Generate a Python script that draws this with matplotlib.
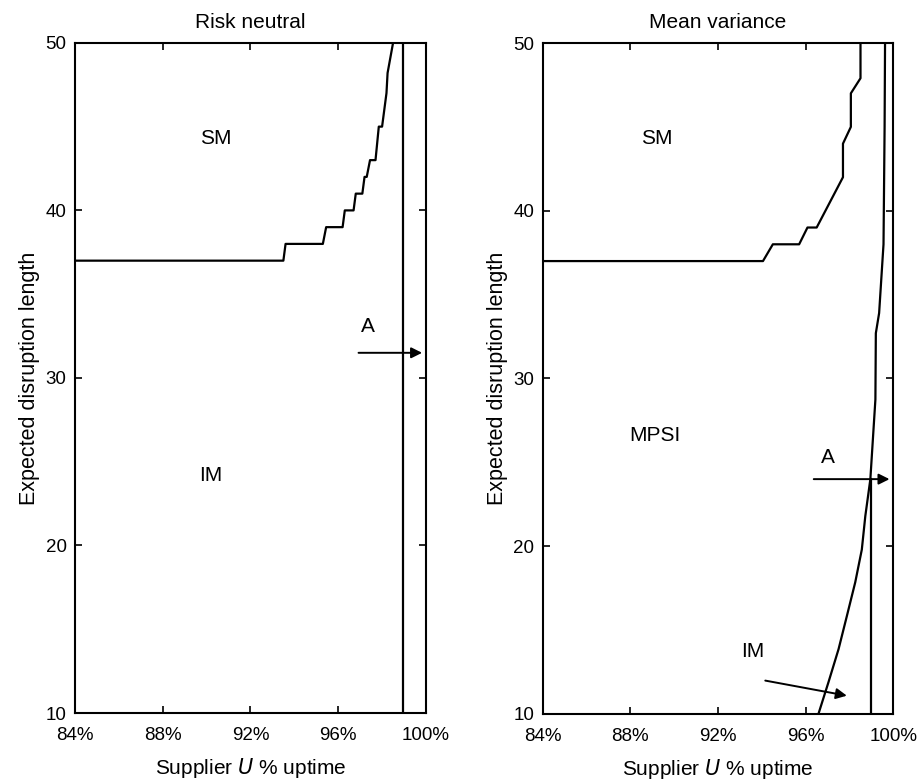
import numpy as np
import matplotlib
matplotlib.use("Agg")
import matplotlib.pyplot as plt

plt.rcParams['font.family'] = ['Liberation Sans', 'DejaVu Sans']

# risk neutral: SM / IM boundary (staircase)
rn_x = [84, 93.5, 93.6, 95.3, 95.45, 96.2, 96.3, 96.7, 96.8, 97.1, 97.2, 97.3,
        97.45, 97.7, 97.85, 98.0, 98.2, 98.25, 98.5]
rn_y = [37, 37, 38, 38, 39, 39, 40, 40, 41, 41, 42, 42,
        43, 43, 45, 45, 47, 48.2, 50]
rn_vline = 98.95

# mean variance: SM / MPSI boundary
mv_x = [84, 94.05, 94.5, 95.7, 96.08, 96.5, 97.7, 97.7, 98.06, 98.06, 98.5, 98.5]
mv_y = [37, 37, 38, 38, 39, 39, 42, 44, 45, 47, 47.9, 50]

# mean variance: MPSI / IM curve
mvc_x = [99.62, 99.6, 99.55, 99.35, 99.2, 99.18, 98.95, 98.72, 98.56,
         98.26, 97.88, 97.5, 97.04, 96.58]
mvc_y = [50, 45, 38, 33.9, 32.7, 28.75, 24.0, 21.8, 19.8,
         17.85, 15.85, 13.87, 11.9, 10.0]
mv_vline = 99.0
mv_vline_top = 24.0

xticks = [84, 88, 92, 96, 100]
yticks = [10, 20, 30, 40, 50]

fig = plt.figure(figsize=(9.21, 7.82), dpi=100)
ax1 = fig.add_axes([0.0814, 0.0882, 0.3811, 0.857])
ax2 = fig.add_axes([0.5893, 0.0870, 0.3807, 0.8580])

lw = 1.6
for ax, title in [(ax1, 'Risk neutral'), (ax2, 'Mean variance')]:
    ax.set_xlim(84, 100)
    ax.set_ylim(10, 50)
    ax.set_xticks(xticks)
    ax.set_xticklabels([f'{t}%' for t in xticks])
    ax.set_yticks(yticks)
    ax.tick_params(direction='in', top=True, right=True, length=5, width=1.2,
                   labelsize=13.5)
    ax.tick_params(axis='x', pad=10)
    ax.tick_params(axis='y', pad=6)
    for s in ax.spines.values():
        s.set_linewidth(1.5)
    ax.set_title(title, fontsize=15, pad=11)
    ax.set_xlabel('Supplier $\\mathit{U}$ % uptime', fontsize=15, labelpad=9)
    ax.set_ylabel('Expected disruption length', fontsize=15.5, labelpad=4)

# left panel
ax1.plot(rn_x, rn_y, color='black', lw=lw)
ax1.axvline(rn_vline, color='black', lw=lw)
ax1.text(90.4, 44.3, 'SM', fontsize=15, ha='center', va='center')
ax1.text(90.2, 24.2, 'IM', fontsize=15, ha='center', va='center')
ax1.text(97.35, 33.1, 'A', fontsize=15, ha='center', va='center')
ax1.annotate('', xy=(99.95, 31.5), xytext=(96.8, 31.5),
             arrowprops=dict(arrowstyle='-|>', color='black', lw=1.4,
                             mutation_scale=16))

# right panel
ax2.plot(mv_x, mv_y, color='black', lw=lw)
ax2.plot(mvc_x, mvc_y, color='black', lw=lw)
ax2.plot([mv_vline, mv_vline], [10, mv_vline_top], color='black', lw=lw)
ax2.text(89.2, 44.3, 'SM', fontsize=15, ha='center', va='center')
ax2.text(89.1, 26.6, 'MPSI', fontsize=15, ha='center', va='center')
ax2.text(97.0, 25.3, 'A', fontsize=15, ha='center', va='center')
ax2.annotate('', xy=(99.95, 24.0), xytext=(96.24, 24.0),
             arrowprops=dict(arrowstyle='-|>', color='black', lw=1.4,
                             mutation_scale=16))
ax2.text(93.6, 13.7, 'IM', fontsize=15, ha='center', va='center')
ax2.annotate('', xy=(98.0, 11.06), xytext=(94.03, 12.02),
             arrowprops=dict(arrowstyle='-|>', color='black', lw=1.4,
                             mutation_scale=16))

fig.savefig('out.png', dpi=100)
